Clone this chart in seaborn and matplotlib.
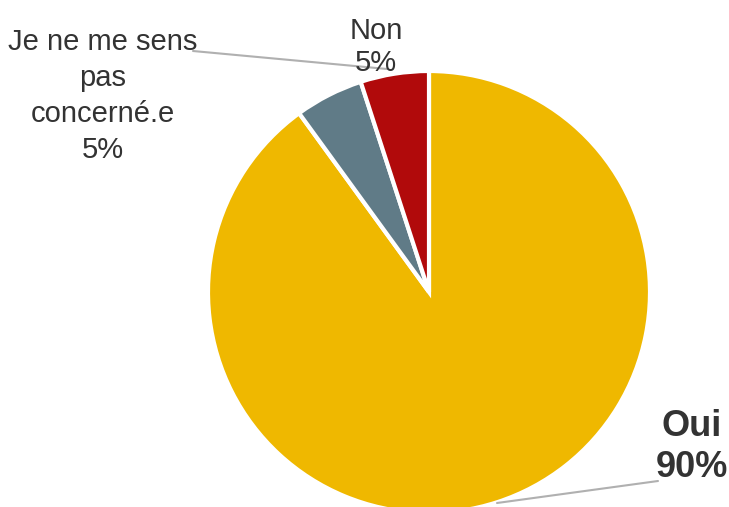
import matplotlib
matplotlib.use('Agg')
import matplotlib.pyplot as plt
import seaborn as sns

# data
categories = ['Oui', 'Je ne me sens\npas\nconcerné.e', 'Non']
values = [90, 5, 5]
colors = ['#EFB800', '#607B87', '#B10A0B']

sns.set_style('white')
plt.rcParams['font.family'] = ['Liberation Sans Narrow', 'Liberation Sans', 'DejaVu Sans']

W, H = 729, 507
fig = plt.figure(figsize=(W / 100, H / 100), dpi=100)
ax = fig.add_axes([0, 0, 1, 1])
ax.set_xlim(0, W)
ax.set_ylim(0, H)
ax.set_aspect('equal')
ax.axis('off')

ax.pie(values, colors=colors, startangle=90, counterclock=False,
       center=(429, H - 292), radius=221,
       wedgeprops=dict(edgecolor='white', linewidth=3))
ax.set_xlim(0, W)
ax.set_ylim(0, H)

# leader lines
ax.plot([193, 387], [H - 51, H - 69], color='#b0b0b0', lw=1.5, zorder=0.5)
ax.plot([497, 658], [H - 503, H - 481], color='#b0b0b0', lw=1.5, zorder=3)

txt = '#333333'
ax.text(692, H - 447, f'{categories[0]}\n{values[0]}%', ha='center', va='center',
        fontsize=26, fontweight='bold', color=txt, linespacing=1.2)
ax.text(103, H - 96, f'{categories[1]}\n{values[1]}%', ha='center', va='center',
        fontsize=21, color=txt, linespacing=1.35)
ax.text(376, H - 47, f'{categories[2]}\n{values[2]}%', ha='center', va='center',
        fontsize=21, color=txt, linespacing=1.2, zorder=5)

fig.savefig('out.png', dpi=100)
